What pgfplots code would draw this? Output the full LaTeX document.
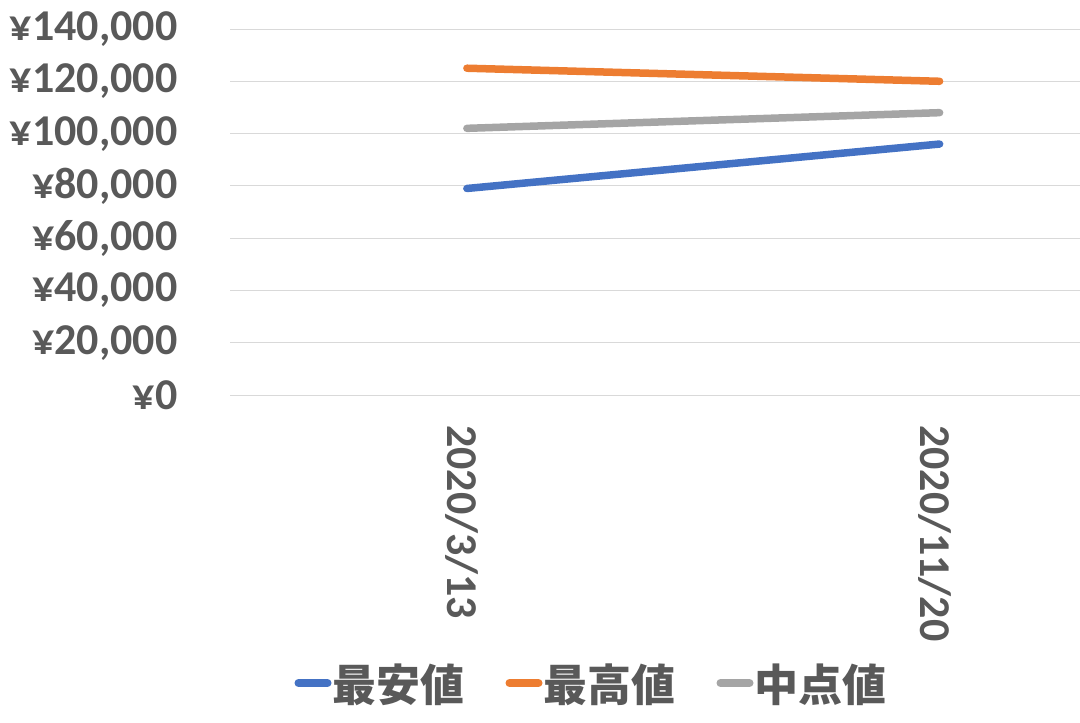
\documentclass[border=0pt]{standalone}
\usepackage{pgfplots}
\pgfplotsset{compat=1.18}
\usepackage{fontspec}
\setmainfont{Carlito}
\newfontfamily\jp{Noto Sans CJK JP}
\definecolor{txt}{HTML}{595959}
\definecolor{grid}{HTML}{D9D9D9}
\definecolor{cblue}{HTML}{4472C4}
\definecolor{corange}{HTML}{ED7D31}
\definecolor{cgray}{HTML}{A5A5A5}
\begin{document}
\begin{tikzpicture}
\path[use as bounding box] (0pt,0pt) rectangle (1080pt,-723pt);
\clip (0pt,0pt) rectangle (1080pt,-723pt);
\begin{axis}[
  at={(230.5pt,-395pt)}, anchor=south west,
  scale only axis, width=945.5pt, height=366pt,
  xmin=-0.5, xmax=1.5, ymin=0, ymax=140000,
  axis line style={draw=none},
  scaled y ticks=false,
  xtick={0,1}, xticklabels={2020/3/13,2020/11/20},
  ytick={0,20000,40000,60000,80000,100000,120000,140000},
  yticklabels={{¥0},{¥20,000},{¥40,000},{¥60,000},{¥80,000},{¥100,000},{¥120,000},{¥140,000}},
  major tick length=0pt, tick style={draw=none},
  xmajorgrids=false, ymajorgrids=true,
  y grid style={grid, line width=1pt},
  tick label style={font=\fontsize{44}{50}\selectfont\bfseries, text=txt},
  yticklabel style={anchor=east, inner sep=0pt},
  yticklabel shift=53pt,
  xticklabel style={xshift=-5pt, rotate=-90, anchor=west, inner sep=0pt},
  xticklabel shift=30pt,
  legend columns=3,
  legend style={at={(axis description cs:0.3813,-0.787)}, anchor=center, draw=none, fill=none,
    font=\fontsize{44}{50}\selectfont\jp\bfseries, text=txt,
    nodes={inner sep=1pt},
    /tikz/column sep=0pt,
    /tikz/every even column/.append style={column sep=40pt}},
  legend image code/.code={\draw[#1, line width=8pt, line cap=round] (4pt,0pt) -- (33pt,0pt);},
]
\addplot[cblue, line width=7.5pt, line cap=round] coordinates {(0,79000) (1,96000)};
\addlegendentry{最安値}
\addplot[corange, line width=7.5pt, line cap=round] coordinates {(0,125000) (1,120000)};
\addlegendentry{最高値}
\addplot[cgray, line width=7.5pt, line cap=round] coordinates {(0,102000) (1,108000)};
\addlegendentry{中点値}
\end{axis}
\end{tikzpicture}
\end{document}
